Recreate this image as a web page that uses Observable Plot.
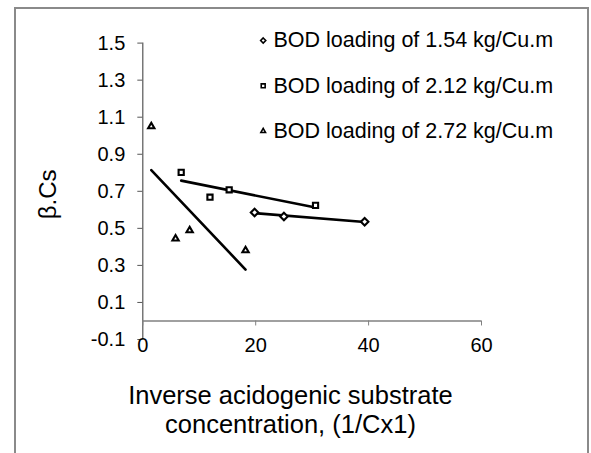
<!DOCTYPE html>
<html>
<head>
<meta charset="utf-8">
<script src="https://cdn.jsdelivr.net/npm/d3@7"></script>
<script src="https://cdn.jsdelivr.net/npm/@observablehq/plot@0.6"></script>
<style>
  html, body { margin: 0; padding: 0; background: #fff; }
  #wrap { position: relative; width: 591px; height: 453px; overflow: hidden; }
  #border { position: absolute; left: 14px; top: 7px; width: 575px; height: 520px;
            box-sizing: border-box; border: 2px solid #8a8a8a; pointer-events: none; }
</style>
</head>
<body>
<div id="wrap"><div id="border"></div></div>
<script>
// ---- data ----
const seriesNames = ["BOD loading of 1.54 kg/Cu.m", "BOD loading of 2.12 kg/Cu.m", "BOD loading of 2.72 kg/Cu.m"];
const x154 = [19.8, 25.0, 39.3];
const y154 = [0.586, 0.564, 0.536];
const x212 = [6.8, 11.9, 15.3, 30.6];
const y212 = [0.802, 0.668, 0.708, 0.624];
const x272 = [1.5, 5.8, 8.3, 18.2];
const y272 = [1.050, 0.444, 0.489, 0.381];
const xTicks = [0, 20, 40, 60];
const yTicks = [-0.1, 0.1, 0.3, 0.5, 0.7, 0.9, 1.1, 1.3, 1.5];
const xTitle = "Inverse acidogenic substrate\nconcentration, (1/Cx1)";
const yTitle = "β.Cs";

const symbols = ["diamond2", "square2", "triangle2"];
const radii = [3.4, 3.3, 3.0];
const legendRadii = [2.3, 2.5, 2.2];

const rows = [];
[[x154, y154], [x212, y212], [x272, y272]].forEach(([xs, ys], i) => {
  xs.forEach((x, j) => rows.push({series: seriesNames[i], x, y: ys[j]}));
});

const W = 591, H = 453;
const mL = 142.3, mR = 110, mT = 42.6, mB = 114;
const yMin = -0.1, yMax = 1.5;
const pxPerUnit = (H - mT - mB) / (yMax - yMin);
const axisShift = (0 - yMin) * pxPerUnit;

const marks = [
  Plot.ruleX([0], {stroke: "#555", strokeWidth: 1.2}),
  Plot.ruleY([0], {stroke: "#808080", strokeWidth: 1.5}),
  Plot.axisY(yTicks, {tickSize: 5, tickPadding: 12.5, stroke: "#555", fontSize: 20,
    tickFormat: d => d.toFixed(1), label: null}),
  Plot.axisX(xTicks, {anchor: "bottom", dy: -axisShift, tickSize: 5, tickPadding: 12,
    stroke: "#808080", fontSize: 20, tickFormat: d => String(d), label: null}),
];

seriesNames.forEach((s, i) => {
  const d = rows.filter(r => r.series === s);
  marks.push(Plot.linearRegressionY(d, {x: "x", y: "y", ci: 0, stroke: "black", strokeWidth: 2.6}));
  marks.push(Plot.dot(d, {x: "x", y: "y", symbol: () => symbols[i], r: radii[i],
    stroke: "black", strokeWidth: 2.1, fill: "white"}));
  // legend row
  marks.push(Plot.dot([s], {frameAnchor: "top-left", dx: 120.4, dy: -2.6 + i * 45.3,
    symbol: () => symbols[i], r: legendRadii[i], stroke: "black", strokeWidth: 1.6, fill: "white"}));
  marks.push(Plot.text([s], {frameAnchor: "top-left", dx: 130.7, dy: -2.6 + i * 45.3,
    text: d => d, textAnchor: "start", lineAnchor: "middle", fontSize: 21.5, fill: "black"}));
});

marks.push(Plot.text([xTitle], {frameAnchor: "bottom", dx: -21.7, dy: 70, text: d => d,
  textAnchor: "middle", lineAnchor: "middle", fontSize: 25.5, lineHeight: 1.1, fill: "black"}));
marks.push(Plot.text([yTitle], {frameAnchor: "left", dx: -94, dy: 3, rotate: -90, text: d => d,
  textAnchor: "middle", lineAnchor: "middle", fontSize: 24, fill: "black"}));

const chart = Plot.plot({
  width: W, height: H,
  marginLeft: mL, marginRight: mR, marginTop: mT, marginBottom: mB,
  x: {domain: [0, 60], label: null},
  y: {domain: [yMin, yMax], label: null},
  symbol: {type: "identity"},
  style: {fontFamily: "'Liberation Sans', Arial, sans-serif", fontSize: "20px", color: "black",
          background: "transparent", overflow: "visible"},
  marks
});
document.getElementById("wrap").prepend(chart);
</script>
</body>
</html>
